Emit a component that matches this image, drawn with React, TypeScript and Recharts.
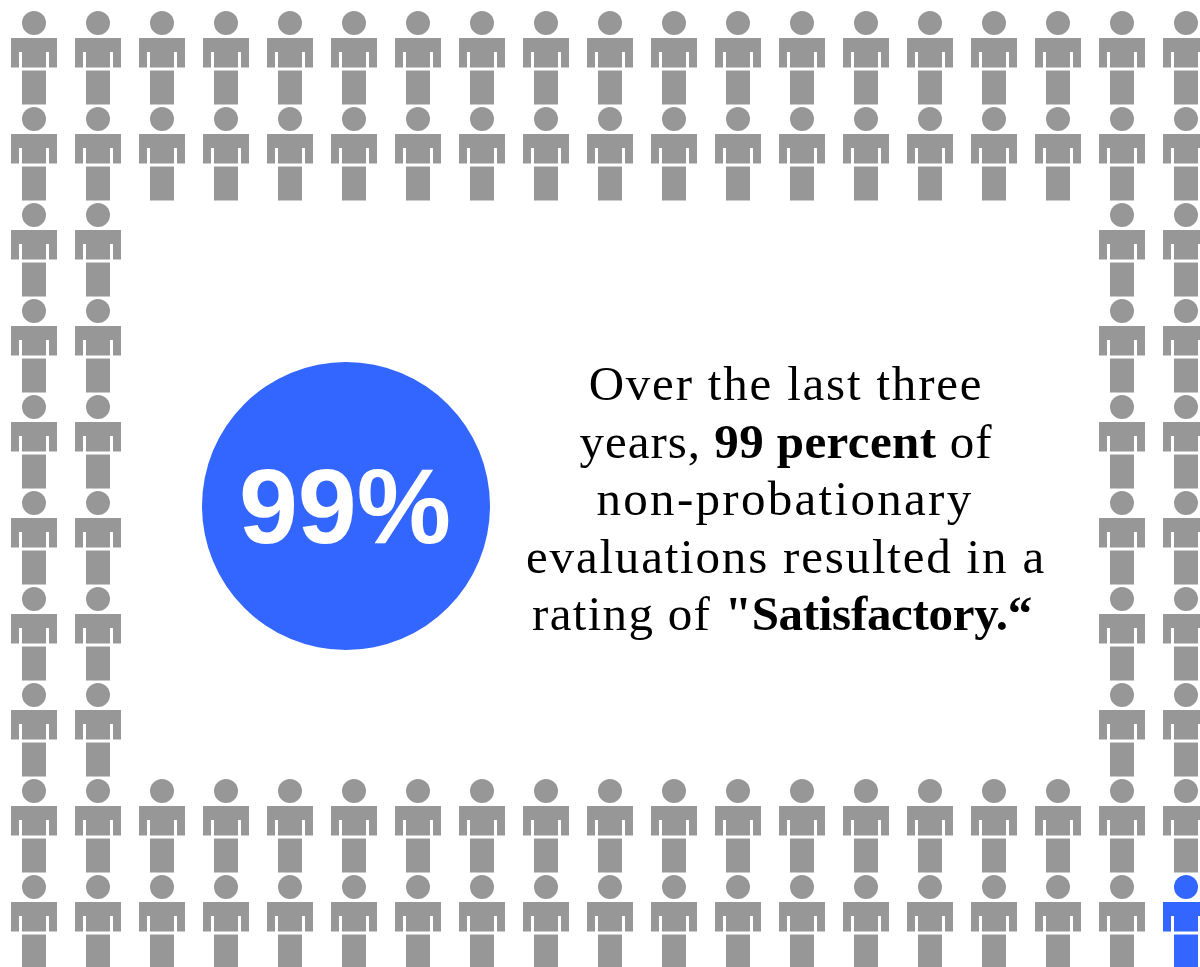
import { ScatterChart, Scatter, XAxis, YAxis, ReferenceDot, Label } from "recharts";

// 100 evaluations laid out as a frame of figures: which columns are filled on each row
const rowColumns: number[][] = [
	[0, 1, 2, 3, 4, 5, 6, 7, 8, 9, 10, 11, 12, 13, 14, 15, 16, 17, 18],
	[0, 1, 2, 3, 4, 5, 6, 7, 8, 9, 10, 11, 12, 13, 14, 15, 16, 17, 18],
	[0, 1, 17, 18],
	[0, 1, 17, 18],
	[0, 1, 17, 18],
	[0, 1, 17, 18],
	[0, 1, 17, 18],
	[0, 1, 17, 18],
	[0, 1, 2, 3, 4, 5, 6, 7, 8, 9, 10, 11, 12, 13, 14, 15, 16, 17, 18],
	[0, 1, 2, 3, 4, 5, 6, 7, 8, 9, 10, 11, 12, 13, 14, 15, 16, 17, 18],
];
const otherRatings = [{ col: 18, row: 9 }];
const badgeValue = "99%";

const satisfactory = rowColumns
	.flatMap((cols, row) => cols.map((col) => ({ col, row })))
	.filter((p) => !otherRatings.some((o) => o.col === p.col && o.row === p.row));

const WIDTH = 1200;
const HEIGHT = 967;
const GRAY = "#979797";
const BLUE = "#3366ff";

function Person({ cx, cy, fill }: { cx?: number; cy?: number; fill?: string }) {
	const x = cx ?? 0;
	const y = cy ?? 0;
	const body = [
		`M${x - 23} ${y + 15}`,
		`H${x + 23}`,
		`V${y + 44.5}`,
		`H${x + 15}`,
		`V${y + 29}`,
		`H${x + 12}`,
		`V${y + 44.5}`,
		`H${x - 12}`,
		`V${y + 29}`,
		`H${x - 15}`,
		`V${y + 44.5}`,
		`H${x - 23}`,
		"Z",
	].join(" ");
	return (
		<g fill={fill}>
			<circle cx={x} cy={y} r={12} />
			<path d={body} />
			<rect x={x - 12} y={y + 47.5} width={24} height={34} />
		</g>
	);
}

const captionStyle = { fontFamily: "'Liberation Serif', serif", fontSize: 49, fill: "#000", letterSpacing: 1.8 };

function Caption() {
	return (
		<g style={captionStyle} textAnchor="middle">
			<text x={786} y={400}>Over the last three</text>
			<text x={786} y={458} letterSpacing={1}>
				years, <tspan fontWeight="bold" letterSpacing={0.4}>99 percent</tspan> of
			</text>
			<text x={785} y={515} style={{ letterSpacing: 2.3 }}>non-probationary</text>
			<text x={786} y={573}>evaluations resulted in a</text>
			<text x={782} y={630} style={{ letterSpacing: 1.3 }}>
				rating of <tspan fontWeight="bold" style={{ letterSpacing: -0.3 }}>"Satisfactory.“</tspan>
			</text>
		</g>
	);
}

export default function App() {
	return (
		<div style={{ position: "absolute", left: 0, top: 0, width: WIDTH, height: HEIGHT }}>
			<ScatterChart width={WIDTH} height={HEIGHT} margin={{ top: 0, right: 0, bottom: 0, left: 0 }}>
				<XAxis type="number" dataKey="col" hide domain={[-0.53125, 18.21875]} allowDataOverflow />
				<YAxis type="number" dataKey="row" hide reversed domain={[-0.2396, 9.8333]} allowDataOverflow />
				<Scatter data={satisfactory} fill={GRAY} shape={<Person />} isAnimationActive={false} />
				<Scatter data={otherRatings} fill={BLUE} shape={<Person />} isAnimationActive={false} />
				<ReferenceDot x={4.875} y={5.031} r={144} fill={BLUE} stroke="none">
					<Label
						value={badgeValue}
						position="center"
						dx={-1}
						dy={-1}
						fill="#fff"
						fontFamily="'Liberation Sans', Arial, sans-serif"
						fontWeight="bold"
						fontSize={106}
					/>
				</ReferenceDot>
				<Caption />
			</ScatterChart>
		</div>
	);
}
